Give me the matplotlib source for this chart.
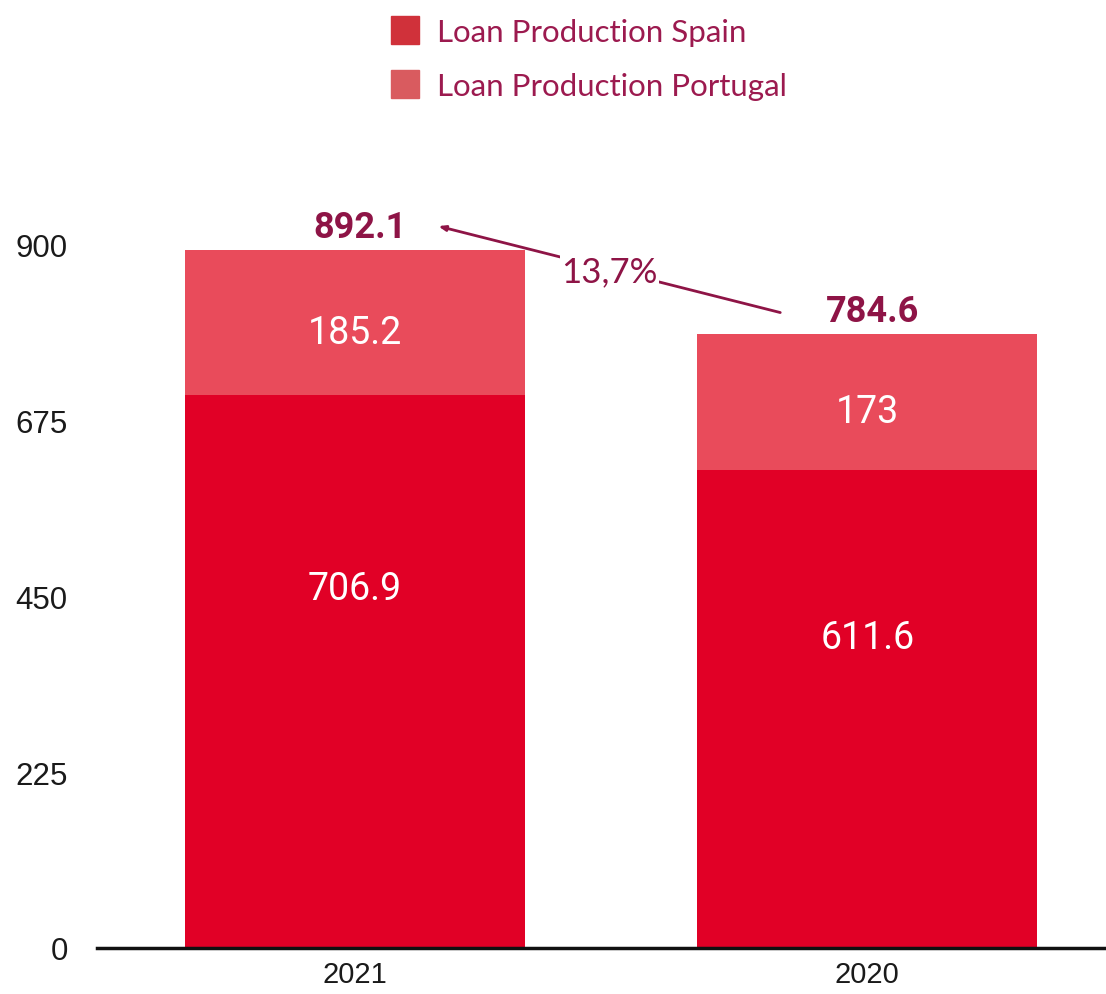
import matplotlib
matplotlib.use("Agg")
import matplotlib.pyplot as plt
from matplotlib.patches import Patch

# Loan production (EUR m) by country
years = ["2021", "2020"]
spain = [706.9, 611.6]
portugal = [185.2, 173.0]
portugal_labels = ["185.2", "173"]
totals = [892.1, 784.6]
growth_label = "13,7%"
yticks = [0, 225, 450, 675, 900]

SPAIN_BAR = "#E10026"
PORTUGAL_BAR = "#E94B5B"
SPAIN_KEY = "#D0313A"
PORTUGAL_KEY = "#D95B5F"
ACCENT = "#8E1446"
LEGEND_TEXT = "#9C1A4F"

fig = plt.figure(figsize=(11.06, 9.95), dpi=100)
ax = fig.add_axes([97 / 1106, 1 - 949 / 995, 1 - 97 / 1106, (949 - 167) / 995])

x = list(range(len(years)))
bw = 0.664
ax.bar(x, spain, width=bw, color=SPAIN_BAR, zorder=2)
ax.bar(x, portugal, width=bw, bottom=spain, color=PORTUGAL_BAR, zorder=2)

ax.set_xlim(-0.504, 1.466)
ax.set_ylim(0, 1000)

# segment labels
for i in x:
    ax.annotate(f"{spain[i]:.1f}", (i, spain[i] * 0.65), ha="center", va="center",
                color="white", fontsize=27, family="Roboto", zorder=3)
    ax.annotate(portugal_labels[i], (i, spain[i] + portugal[i] / 2),
                xytext=(0, -7), textcoords="offset points", ha="center", va="center",
                color="white", fontsize=27, family="Roboto", zorder=3)
    ax.annotate(f"{totals[i]:.1f}", (i + 0.01, totals[i]), xytext=(0, 4),
                textcoords="offset points", ha="center", va="bottom",
                color=ACCENT, fontsize=26, fontweight="bold", family="Roboto", zorder=3)

# growth arrow between the two totals
ax.annotate("", xy=(0.162, totals[0] + 31), xytext=(0.83, totals[1] + 28),
            arrowprops=dict(arrowstyle="-|>,head_length=0.4,head_width=0.15",
                            color=ACCENT, lw=2, shrinkA=0, shrinkB=0), zorder=1)
ax.text(0.496, 866, growth_label, ha="center", va="center", color=ACCENT,
        fontsize=25, family="Lato",
        bbox=dict(facecolor="white", edgecolor="none", pad=1), zorder=2)

# axes styling
for s in ["top", "right", "left"]:
    ax.spines[s].set_visible(False)
ax.spines["bottom"].set_linewidth(2.5)
ax.spines["bottom"].set_color("#111111")
ax.set_yticks(yticks)
ax.set_yticklabels([str(v) for v in yticks])
ax.tick_params(axis="y", length=0, pad=21, labelsize=22.5, labelcolor="#1a1a1a")
ax.set_xticks(x)
ax.set_xticklabels(years)
ax.tick_params(axis="x", length=0, pad=9, labelsize=21, labelcolor="#1a1a1a")
for lab in ax.get_xticklabels() + ax.get_yticklabels():
    lab.set_family("Liberation Sans")

handles = [Patch(color=SPAIN_KEY), Patch(color=PORTUGAL_KEY)]
leg = fig.legend(handles, ["Loan Production Spain", "Loan Production Portugal"],
                 loc="upper left", bbox_to_anchor=(391 / 1106, 1 - 17 / 995),
                 frameon=False, borderpad=0, borderaxespad=0,
                 handlelength=0.9, handleheight=1.0,
                 handletextpad=0.58, labelspacing=0.78,
                 prop={"family": "Lato", "size": 22.5})
for t in leg.get_texts():
    t.set_color(LEGEND_TEXT)

fig.savefig("out.png", dpi=100)
